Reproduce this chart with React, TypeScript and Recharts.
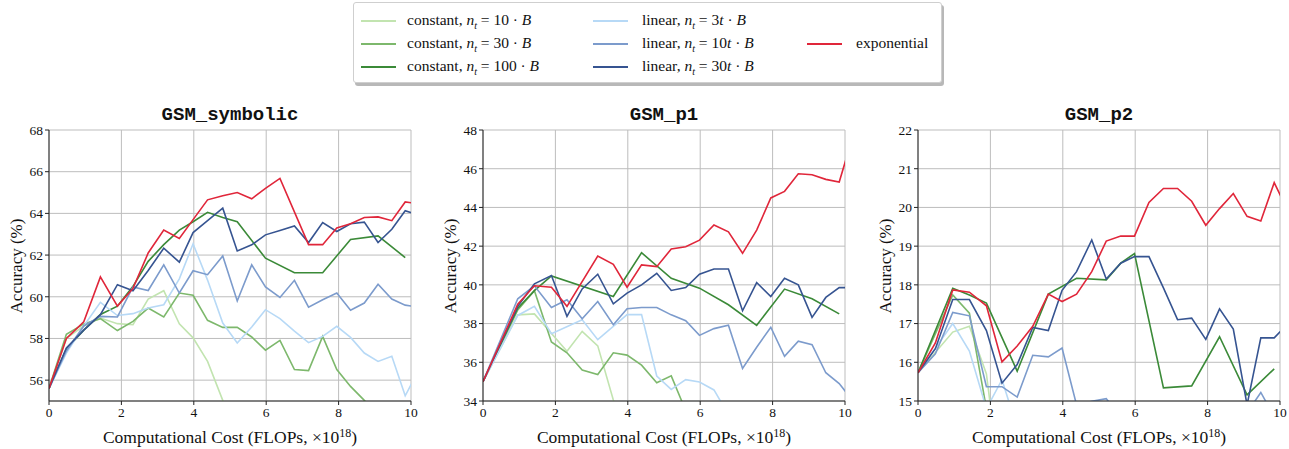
import React from 'react';
import { LineChart, Line, XAxis, YAxis, CartesianGrid } from 'recharts';

// computational cost, x10^18 FLOPs (shared sample grid)
const COST = [0, 0.48, 0.96, 1.42, 1.89, 2.32, 2.74, 3.17, 3.6, 3.98, 4.38, 4.8, 5.2, 5.6, 5.98, 6.38, 6.78, 7.17, 7.56, 7.95, 8.33, 8.71, 9.09, 9.47, 9.84, 10.22];

// GSM_symbolic
const SYM_CONST_10 = [55.6, 58.0, 58.6, 58.98, 58.71, 58.66, 59.89, 60.29, 58.7, 58.03, 56.9, 55.03, 53.5, null, null, null, null, null, null, null, null, null, null, null, null, null];
const SYM_CONST_30 = [55.6, 58.2, 58.7, 58.95, 58.38, 58.82, 59.46, 59.03, 60.18, 60.07, 58.87, 58.53, 58.53, 58.07, 57.44, 57.91, 56.51, 56.46, 58.1, 56.51, 55.7, 55.03, 54.3, null, null, null];
const SYM_CONST_100 = [55.6, 57.5, 58.4, 59.15, 59.55, 60.5, 61.7, 62.5, 63.2, 63.6, 64.05, 63.8, 63.6, null, 61.85, null, 61.15, null, 61.15, null, 62.75, null, 62.92, null, 61.88, null];
const SYM_LIN_3 = [55.6, 57.3, 58.6, 59.73, 59.1, 59.19, 59.46, 59.62, 60.86, 62.54, 60.8, 58.74, 57.78, 58.55, 59.38, 58.95, 58.35, 57.8, 58.1, 58.58, 58.05, 57.3, 56.9, 57.15, 55.25, 56.5];
const SYM_LIN_10 = [55.6, 57.4, 58.6, 59.06, 59.03, 60.47, 60.3, 61.53, 60.18, 61.25, 61.06, 61.96, 59.8, 61.53, 60.47, 59.97, 60.79, 59.5, 59.86, 60.18, 59.35, 59.7, 60.6, 59.89, 59.6, 59.5];
const SYM_LIN_30 = [55.6, 57.55, 58.4, 59.14, 60.58, 60.29, 61.26, 62.33, 61.66, 63.08, 63.65, 64.25, 62.2, 62.49, 62.97, 63.18, 63.4, 62.6, 63.56, 63.13, 63.5, 63.58, 62.6, 63.24, 64.13, 63.9];
const SYM_EXP = [55.6, 58.0, 58.8, 60.95, 59.55, 60.4, 62.1, 63.2, 62.8, 63.7, 64.65, 64.85, 65.0, 64.7, 65.2, 65.68, null, 62.5, 62.5, 63.3, 63.5, 63.8, 63.83, 63.65, 64.55, 64.45];

// GSM_p1
const P1_CONST_10 = [35.0, null, 38.45, 38.5, null, 36.57, 37.6, 36.85, 34.05, 32.5, null, null, null, null, null, null, null, null, null, null, null, null, null, null, null, null];
const P1_CONST_30 = [35.0, null, 38.7, 39.7, 37.05, 36.49, 35.6, 35.37, 36.49, 36.37, 35.85, 34.94, 35.3, 33.5, null, null, null, null, null, null, null, null, null, null, null, null];
const P1_CONST_100 = [35.0, null, 38.8, 39.7, 40.46, null, null, null, 39.4, null, 41.66, null, 40.34, null, 39.83, null, 38.97, null, 37.91, null, 39.78, null, 39.28, null, 38.5, null];
const P1_LIN_3 = [35.0, null, 38.42, 38.89, 37.48, null, 38.2, 37.17, null, 38.46, 38.46, 35.29, 34.6, 35.1, 34.98, 34.57, 33.3, null, null, null, null, null, null, null, null, null];
const P1_LIN_10 = [35.0, null, 39.28, 39.95, 38.83, 39.23, 38.25, 39.14, 37.94, 38.77, 38.83, 38.83, 38.45, 38.15, 37.39, 37.74, 37.91, 35.68, 36.78, 37.81, 36.31, 37.09, 36.91, 35.46, 34.9, 34.0];
const P1_LIN_30 = [35.0, null, 38.89, 40.05, 40.48, 38.37, 39.79, 40.55, 39.02, 39.57, 40.0, 40.6, 39.71, 39.86, 40.55, 40.82, 40.82, 38.66, 40.12, 39.4, 40.34, 40.0, 38.32, 39.35, 39.86, 39.85];
const P1_EXP = [35.0, null, 39.0, 39.95, 39.88, 38.89, null, 41.49, 41.06, 39.88, 41.03, 40.94, 41.85, 41.97, 42.31, 43.09, 42.74, 41.63, 42.83, 44.49, 44.83, 45.74, 45.69, 45.45, 45.31, 47.7];

// GSM_p2
const P2_CONST_10 = [15.73, null, 16.78, 16.93, 15.7, 12.5, null, null, null, null, null, null, null, null, null, null, null, null, null, null, null, null, null, null, null, null];
const P2_CONST_30 = [15.73, null, 17.74, 17.27, 14.8, 12.0, null, null, null, null, null, null, null, null, null, null, null, null, null, null, null, null, null, null, null, null];
const P2_CONST_100 = [15.73, null, 17.91, 17.74, 17.53, null, 15.77, null, 17.76, null, 18.17, null, 18.13, 18.56, 18.81, null, 15.34, null, 15.39, null, 16.66, null, 15.16, null, 15.83, null];
const P2_LIN_3 = [15.73, null, 17.0, 16.29, 14.8, 15.55, 14.3, null, null, null, null, null, null, null, null, null, null, null, null, null, null, null, null, null, null, null];
const P2_LIN_10 = [15.73, 16.22, 17.29, 17.2, 15.37, 15.37, 15.1, 16.18, 16.14, 16.37, 14.9, 14.99, 15.06, 14.6, 14.4, 14.3, 14.2, 14.3, 14.2, 14.3, 14.4, 14.6, 14.7, 15.22, 14.6, 14.5];
const P2_LIN_30 = [15.73, 16.35, 17.62, 17.62, 16.82, 15.46, 15.94, 16.9, 16.82, 17.86, 18.34, 19.16, 18.15, 18.56, 18.73, 18.73, 17.92, 17.1, 17.14, 16.59, 17.38, 16.86, 14.9, 16.63, 16.63, 17.0];
const P2_EXP = [15.73, 16.5, 17.87, 17.81, 17.46, 16.01, 16.42, 16.93, 17.76, 17.57, 17.76, 18.34, 19.13, 19.26, 19.26, 20.13, 20.49, 20.49, 20.16, 19.54, 19.97, 20.36, 19.77, 19.65, 20.64, 19.9];

const X_TICKS = [0, 2, 4, 6, 8, 10];
const SYM_TICKS = [56, 58, 60, 62, 64, 66, 68];
const P1_TICKS = [34, 36, 38, 40, 42, 44, 46, 48];
const P2_TICKS = [15, 16, 17, 18, 19, 20, 21, 22];

const SERIES_LABELS = [
  { kind: 'constant', n: '10' },
  { kind: 'constant', n: '30' },
  { kind: 'constant', n: '100' },
  { kind: 'linear', n: '3t' },
  { kind: 'linear', n: '10t' },
  { kind: 'linear', n: '30t' },
  { kind: 'exponential', n: '' },
];
const COLORS = ['#c2e4b0', '#7db86c', '#3b8a38', '#b7d9f6', '#7c9bcc', '#365491', '#e0263a'];

const panels = [
  { title: 'GSM_symbolic', domain: [55, 68], ticks: SYM_TICKS, series: [SYM_CONST_10, SYM_CONST_30, SYM_CONST_100, SYM_LIN_3, SYM_LIN_10, SYM_LIN_30, SYM_EXP] },
  { title: 'GSM_p1', domain: [34, 48], ticks: P1_TICKS, series: [P1_CONST_10, P1_CONST_30, P1_CONST_100, P1_LIN_3, P1_LIN_10, P1_LIN_30, P1_EXP] },
  { title: 'GSM_p2', domain: [15, 22], ticks: P2_TICKS, series: [P2_CONST_10, P2_CONST_30, P2_CONST_100, P2_LIN_3, P2_LIN_10, P2_LIN_30, P2_EXP] },
];

const SERIF = '"Liberation Serif", "DejaVu Serif", serif';
const PLOT_LEFTS = [49, 483, 918];
const PLOT_W = 362;
const PLOT_TOP = 130;
const PLOT_BOTTOM = 401;
const TICK_STYLE = { fontFamily: SERIF, fontSize: 13.5, fill: '#111' };

const LegendLabel = ({ kind, n }: { kind: string; n: string }) => {
  if (!n) return <span>{kind}</span>;
  return (
    <span>
      {kind}, <i>n</i><sub style={{ fontSize: 10, fontStyle: 'italic' }}>t</sub> = {n.replace('t', '')}
      {n.includes('t') ? <i>t</i> : null} · <i>B</i>
    </span>
  );
};

const LegendBox = () => {
  const cols = [[0, 1, 2], [3, 4, 5], [null, 6, null]];
  const colX = [[7, 53], [239, 288], [453, 502]];
  const rowY = [18, 41, 64];
  return (
    <div
      style={{
        position: 'absolute', left: 353, top: 2, width: 587, height: 79,
        border: '1px solid #cfcfcf', borderRadius: 3, background: '#fff',
        boxShadow: '2px 3px 0 #b8b8b8', fontFamily: SERIF, fontSize: 15.5, color: '#111',
      }}
    >
      {cols.map((col, c) =>
        col.map((idx, r) =>
          idx === null ? null : (
            <React.Fragment key={`${c}-${r}`}>
              <div style={{ position: 'absolute', left: colX[c][0], top: rowY[r] - 1, width: 35, height: 2, background: COLORS[idx] }} />
              <div style={{ position: 'absolute', left: colX[c][1], top: rowY[r] - 10, whiteSpace: 'nowrap', lineHeight: '18px' }}>
                <LegendLabel {...SERIES_LABELS[idx]} />
              </div>
            </React.Fragment>
          ),
        ),
      )}
    </div>
  );
};

const Panel = ({ p, i }: { p: typeof panels[number]; i: number }) => {
  const rows = COST.map((c, k) => {
    const row: Record<string, number | null> = { cost: c };
    p.series.forEach((s, j) => { row[`s${j}`] = s[k]; });
    return row;
  });
  const plotLeft = PLOT_LEFTS[i];
  const cx = plotLeft + PLOT_W / 2;
  return (
    <>
      <div style={{ position: 'absolute', left: cx, top: 115, transform: 'translate(-50%, -50%)', fontFamily: '"Liberation Mono", monospace', fontWeight: 'bold', fontSize: 19, color: '#111', whiteSpace: 'nowrap' }}>
        {p.title}
      </div>
      <div style={{ position: 'absolute', left: plotLeft - 49, top: 100 }}>
        <LineChart width={420} height={349} data={rows} margin={{ top: 30, right: 9, bottom: 28, left: 9 }}>
          <CartesianGrid stroke="#bdbdbd" strokeWidth={1} />
          <XAxis dataKey="cost" type="number" domain={[0, 10]} ticks={X_TICKS} allowDataOverflow height={20}
            tickSize={4} tick={TICK_STYLE} stroke="#222" interval={0} />
          <XAxis xAxisId="top" orientation="top" type="number" domain={[0, 10]} height={0} tick={false} tickLine={false} stroke="#444" />
          <YAxis type="number" domain={p.domain} ticks={p.ticks} allowDataOverflow width={40}
            tickSize={4} tick={TICK_STYLE} stroke="#222" interval={0} />
          <YAxis yAxisId="right" orientation="right" type="number" domain={p.domain} width={0} tick={false} tickLine={false} stroke="#444" />
          {p.series.map((_, j) => (
            <Line key={j} type="linear" dataKey={`s${j}`} stroke={COLORS[j]} strokeWidth={1.6}
              dot={false} connectNulls isAnimationActive={false} />
          ))}
        </LineChart>
      </div>
      <div style={{ position: 'absolute', left: cx, top: 437, transform: 'translate(-50%, -50%)', fontFamily: SERIF, fontSize: 17.5, color: '#111', whiteSpace: 'nowrap' }}>
        Computational Cost (FLOPs, ×10<sup style={{ fontSize: 12 }}>18</sup>)
      </div>
      <div style={{ position: 'absolute', left: plotLeft - 32, top: (PLOT_TOP + PLOT_BOTTOM) / 2, transform: 'translate(-50%, -50%) rotate(-90deg)', fontFamily: SERIF, fontSize: 17, color: '#111', whiteSpace: 'nowrap' }}>
        Accuracy (%)
      </div>
    </>
  );
};

export default function App() {
  return (
    <div style={{ position: 'absolute', left: 0, top: 0, width: 1289, height: 449, background: '#fff', overflow: 'hidden' }}>
      <LegendBox />
      {panels.map((p, i) => <Panel key={p.title} p={p} i={i} />)}
    </div>
  );
}
